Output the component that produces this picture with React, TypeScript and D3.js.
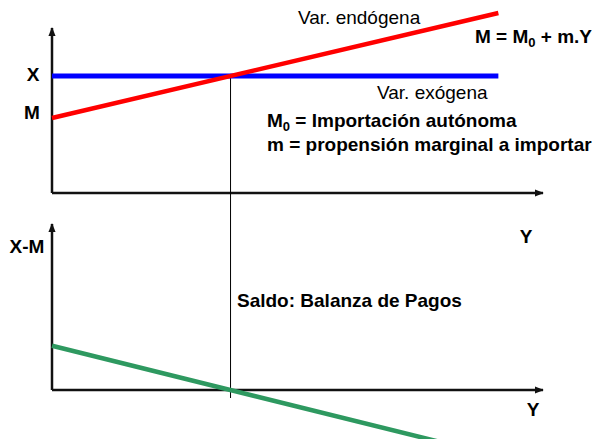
import React from 'react';
import * as d3 from 'd3';

// income levels (Y) where the lines are drawn
const incomeY = [0, 10];
const exportsX = [7.8, 7.8];
const importsM = [5, 12];
const balanceXM = [2.8, -4.2];
const equilibriumY = 4;

const W = 599;
const H = 439;
const FONT = '"Liberation Sans", Arial, sans-serif';

export default function App()
{
    let x = d3.scaleLinear().domain([0, 11]).range([52, 543]);
    let yTop = d3.scaleLinear().domain([0, 11]).range([193, 28]);
    let yBot = d3.scaleLinear().domain([0, 10.5]).range([390, 224]);

    let lineTop = d3.line<[number, number]>().x(d => x(d[0])).y(d => yTop(d[1]));
    let lineBot = d3.line<[number, number]>().x(d => x(d[0])).y(d => yBot(d[1]));

    let exportsPts = incomeY.map((v, i) => [v, exportsX[i]] as [number, number]);
    let importsPts = incomeY.map((v, i) => [v, importsM[i]] as [number, number]);
    let balancePts = incomeY.map((v, i) => [v, balanceXM[i]] as [number, number]);

    let eqX = x(equilibriumY);
    let eqTopY = yTop(exportsX[0]);

    return (
        <div style={{position: 'fixed', left: 0, top: 0}}>
            <svg width={W} height={H} style={{display: 'block', background: '#fff'}} fontFamily={FONT}>
                <defs>
                    <marker id="arr" viewBox="0 0 10 10" refX="9" refY="5" markerWidth="3.6" markerHeight="3.6"
                            orient="auto" markerUnits="strokeWidth">
                        <path d="M0,1 L10,5 L0,9 Z" fill="#111"/>
                    </marker>
                </defs>

                {/* top panel axes */}
                <path d={`M${x(0)},${yTop(0)} L${x(0)},${yTop(11)}`} stroke="#111" strokeWidth={2.5}
                      fill="none" markerEnd="url(#arr)"/>
                <path d={`M${x(0)},${yTop(0)} L${x(11)},${yTop(0)}`} stroke="#111" strokeWidth={2.5}
                      fill="none" markerEnd="url(#arr)"/>

                {/* bottom panel axes */}
                <path d={`M${x(0)},${yBot(0)} L${x(0)},${yBot(10.5)}`} stroke="#111" strokeWidth={2.5}
                      fill="none" markerEnd="url(#arr)"/>
                <path d={`M${x(0)},${yBot(0)} L${x(11)},${yBot(0)}`} stroke="#111" strokeWidth={2.5}
                      fill="none" markerEnd="url(#arr)"/>

                {/* equilibrium guide */}
                <line x1={eqX} x2={eqX} y1={eqTopY} y2={yBot(0) + 8} stroke="#000" strokeWidth={1}/>

                <path d={lineTop(exportsPts) || ''} stroke="#0000ff" strokeWidth={5} fill="none"/>
                <path d={lineTop(importsPts) || ''} stroke="#ff0000" strokeWidth={4.5} fill="none"/>
                <path d={lineBot(balancePts) || ''} stroke="#2e9960" strokeWidth={4.5} fill="none"/>

                {/* labels */}
                <text x={33} y={81} fontSize={19} fontWeight="bold" textAnchor="middle">X</text>
                <text x={32} y={119} fontSize={19} fontWeight="bold" textAnchor="middle">M</text>
                <text x={27} y={253} fontSize={19} fontWeight="bold" textAnchor="middle">X-M</text>
                <text x={526} y={243} fontSize={19} fontWeight="bold" textAnchor="middle">Y</text>
                <text x={533} y={416} fontSize={19} fontWeight="bold" textAnchor="middle">Y</text>

                <text x={298} y={24} fontSize={19}>Var. endógena</text>
                <text x={377} y={99} fontSize={19}>Var. exógena</text>

                <text x={475} y={43} fontSize={19} fontWeight="bold">
                    M = M<tspan fontSize={13} dy={3.5}>0</tspan><tspan dy={-3.5}> + m.Y</tspan>
                </text>
                <text x={267} y={127} fontSize={19} fontWeight="bold">
                    M<tspan fontSize={13} dy={3.5}>0</tspan><tspan dy={-3.5}> = Importación autónoma</tspan>
                </text>
                <text x={267} y={151} fontSize={19} fontWeight="bold">m = propensión marginal a importar</text>

                <text x={237} y={307} fontSize={19} fontWeight="bold">Saldo: Balanza de Pagos</text>
            </svg>
        </div>
    );
}
